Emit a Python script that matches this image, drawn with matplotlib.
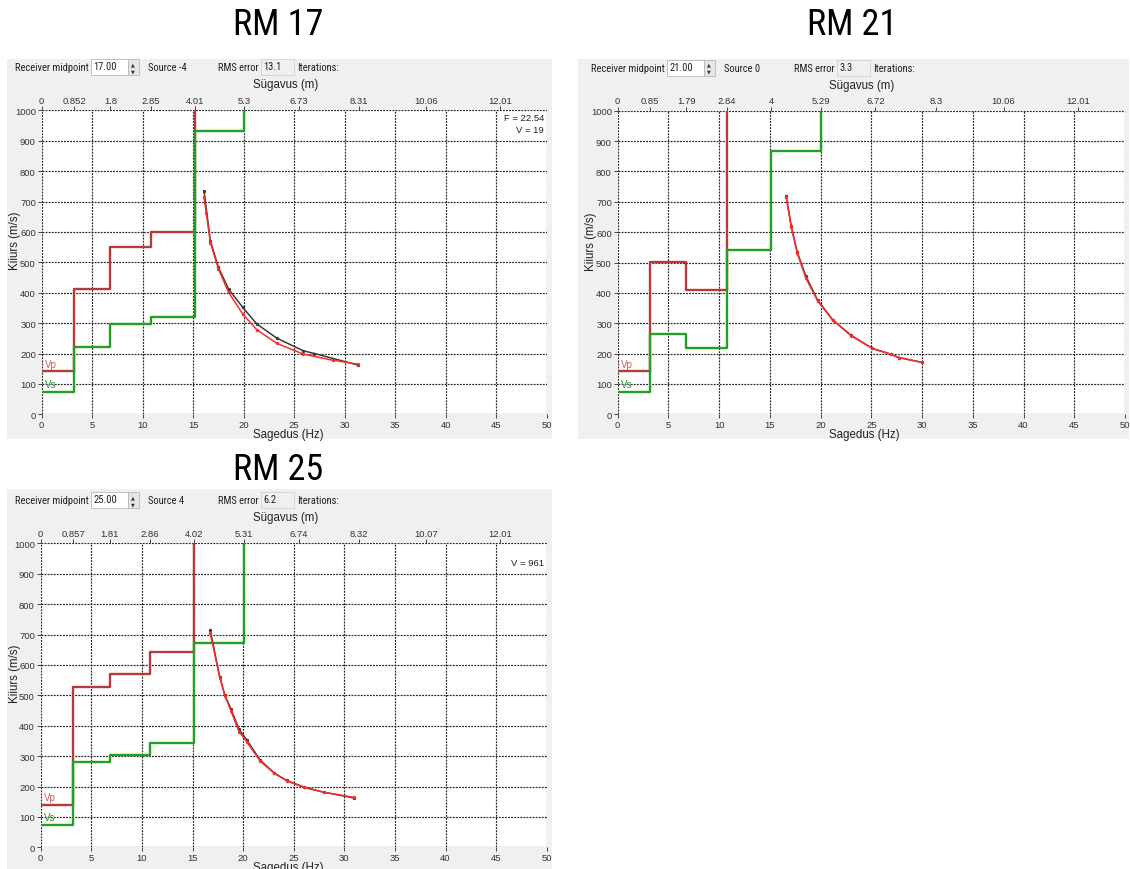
import numpy as np
import matplotlib
matplotlib.use("Agg")
import matplotlib.pyplot as plt
from matplotlib import font_manager
from matplotlib.patches import Rectangle


def pick_font(*names):
    for n in names:
        try:
            font_manager.findfont(n, fallback_to_default=False)
            return n
        except ValueError:
            pass
    return "DejaVu Sans"


UI_FONT = pick_font("Liberation Sans", "Arial", "DejaVu Sans")
NARROW_FONT = pick_font("Liberation Sans Narrow", "Roboto Condensed", "Liberation Sans")
TITLE_FONT = pick_font("Liberation Sans Narrow", "Roboto Condensed", "Open Sans", "DejaVu Sans")

# ---------------------------------------------------------------- data
# depth scale (top axis) of each profile, metres
rm17_depth_ticks = [0, 0.852, 1.8, 2.85, 4.01, 5.3, 6.73, 8.31, 10.06, 12.01]
rm21_depth_ticks = [0, 0.85, 1.79, 2.84, 4, 5.29, 6.72, 8.3, 10.06, 12.01]
rm25_depth_ticks = [0, 0.857, 1.81, 2.86, 4.02, 5.31, 6.74, 8.32, 10.07, 12.01]

# layered models: velocity of each layer (m/s), top of each layer = depth tick
rm17_vp = [141, 412, 551, 599, 1200, 1200]
rm17_vs = [75, 220, 297, 321, 933, 1100]
rm21_vp = [141, 501, 411, 1150, 1150, 1150]
rm21_vs = [75, 266, 219, 541, 867, 1100]
rm25_vp = [139, 527, 570, 642, 1150, 1150]
rm25_vs = [74, 281, 303, 342, 671, 1100]

# dispersion curves: frequency (Hz) / phase velocity (m/s)
rm17_obs_f = [16.07, 16.7, 17.5, 18.5, 19.9, 21.3, 23.3, 25.9, 27.0, 31.3]
rm17_obs_v = [735, 571, 483, 412, 352, 297, 250, 209, 200, 162]
rm17_fit_f = [16.07, 16.3, 16.7, 17.5, 18.5, 19.9, 21.3, 23.3, 25.9, 28.8, 31.3]
rm17_fit_v = [714, 661, 565, 478, 401, 330, 278, 233, 198, 178, 165]

rm21_obs_f = [16.6, 17.1, 17.7, 18.55, 19.7, 21.2, 23.0, 25.1, 26.9, 27.7, 30.0]
rm21_obs_v = [720, 620, 534, 455, 376, 311, 260, 217, 198, 187, 171]
rm21_fit_f = [16.6, 17.1, 17.7, 18.55, 19.7, 21.2, 23.0, 25.1, 26.9, 27.7, 30.0]
rm21_fit_v = [717, 618, 531, 448, 374, 310, 259, 217, 198, 187, 171]

rm25_obs_f = [16.75, 17.7, 18.2, 18.8, 19.6, 20.35, 21.7, 23.1, 24.3, 26.0, 28.0, 31.0]
rm25_obs_v = [714, 560, 500, 455, 388, 354, 286, 244, 220, 198, 181, 162]
rm25_fit_f = [16.75, 17.7, 18.2, 18.8, 19.6, 20.35, 21.7, 23.1, 24.3, 26.0, 28.0, 31.0]
rm25_fit_v = [705, 557, 499, 449, 380, 348, 283, 243, 219, 197, 181, 164]

panel_titles = ["RM 17", "RM 21", "RM 25"]
receiver_midpoints = ["17.00", "21.00", "25.00"]
sources = ["Source -4", "Source 0", "Source 4"]
rms_errors = ["13.1", "3.3", "6.2"]
corner_notes = [("F = 22.54", "V = 19"), ("", ""), ("", "V = 961")]

freq_ticks = list(range(0, 51, 5))
vel_ticks = list(range(0, 1001, 100))

# depth (m) that corresponds to 1 Hz on the shared horizontal scale
M_PER_HZ = 12.01 / 45.4

# ---------------------------------------------------------------- layout
W, H = 1130, 870
fig = plt.figure(figsize=(W / 100, H / 100), dpi=100)
fig.patch.set_facecolor("white")


def fx(x):
    return x / W


def fy(y):
    return 1 - y / H


def frect(x0, y0, x1, y1, **kw):
    r = Rectangle((fx(x0), fy(y1)), (x1 - x0) / W, (y1 - y0) / H,
                  transform=fig.transFigure, **kw)
    fig.add_artist(r)
    return r


def ftext(x, y, s, **kw):
    kw.setdefault("fontfamily", UI_FONT)
    kw.setdefault("color", "#222222")
    return fig.text(fx(x), fy(y), s, **kw)


# pixel geometry of every panel: window box, plot box (left, top, right, bottom)
panels = [
    dict(win=(7, 60, 552, 440), box=(41.7, 111.3, 546.7, 415.3), ox=0, title=(278, 25)),
    dict(win=(578, 60, 1129, 440), box=(617.7, 111.7, 1125.0, 415.3), ox=576, title=(852, 25)),
    dict(win=(7, 490, 552, 870), box=(40.7, 544.3, 546.7, 848.3), ox=0, title=(278, 470)),
]

depth_ticks = [rm17_depth_ticks, rm21_depth_ticks, rm25_depth_ticks]
vps = [rm17_vp, rm21_vp, rm25_vp]
vss = [rm17_vs, rm21_vs, rm25_vs]
obs = [(rm17_obs_f, rm17_obs_v), (rm21_obs_f, rm21_obs_v), (rm25_obs_f, rm25_obs_v)]
fits = [(rm17_fit_f, rm17_fit_v), (rm21_fit_f, rm21_fit_v), (rm25_fit_f, rm25_fit_v)]

VP_COL = "#b53a3a"
VS_COL = "#23a023"
GRID_COL = "#262626"
HDR = dict(fontsize=7.6, fontfamily=NARROW_FONT, ha="left", va="center")

for i, p in enumerate(panels):
    wx0, wy0, wx1, wy1 = p["win"]
    bl, bt, br, bb = p["box"]
    ox = p["ox"]
    hy = bt - 43  # header row centre

    # window background
    frect(wx0, wy0, wx1, wy1, facecolor="#f0f0f0", edgecolor="none", zorder=0)

    # title above the window
    tx, ty = p["title"]
    fig.text(fx(tx), fy(ty), panel_titles[i], ha="center", va="center",
             fontsize=26, fontfamily=TITLE_FONT, color="black")

    # header controls
    ftext(ox + 15, hy, "Receiver midpoint", **HDR)
    frect(ox + 90.5, hy - 8, ox + 128, hy + 8, facecolor="white",
          edgecolor="#b8b8b8", lw=0.6, zorder=1)
    ftext(ox + 93, hy - 1, receiver_midpoints[i], **HDR)
    frect(ox + 128, hy - 8, ox + 138.5, hy + 8, facecolor="#e6e6e6",
          edgecolor="#b8b8b8", lw=0.6, zorder=1)
    ftext(ox + 133.3, hy - 3.5, "\u25b2", fontsize=3.5, ha="center", va="center",
          fontfamily="DejaVu Sans", color="#333333")
    ftext(ox + 133.3, hy + 3.5, "\u25bc", fontsize=3.5, ha="center", va="center",
          fontfamily="DejaVu Sans", color="#333333")
    ftext(ox + 148, hy, sources[i], **HDR)
    ftext(ox + 218, hy, "RMS error", **HDR)
    frect(ox + 261, hy - 8, ox + 294, hy + 8, facecolor="#f0f0f0",
          edgecolor="#d0d0d0", lw=0.6, zorder=1)
    ftext(ox + 263, hy - 1, rms_errors[i], **HDR)
    ftext(ox + 297, hy, "Iterations:", **HDR)

    # axis titles
    ftext(ox + 286, bt - 26, "Sügavus (m)", fontsize=8.3, ha="center", va="center")
    ftext(ox + 288, bb + 20, "Sagedus (Hz)", fontsize=8.3, ha="center", va="center")
    ftext(ox + 15, bt + 130, "Kiiurs (m/s)", fontsize=8.3, ha="center", va="center",
          rotation=90)

    # plotting area
    ax = fig.add_axes([fx(bl), fy(bb), (br - bl) / W, (bb - bt) / H])
    ax.set_facecolor("white")
    ax.set_xlim(0, 50)
    ax.set_ylim(0, 1000)
    ax.set_xticks(freq_ticks)
    ax.set_yticks(vel_ticks)
    for s in ax.spines.values():
        s.set_visible(False)
    ax.tick_params(axis="both", labelsize=6.8, length=3, width=0.7,
                   color="#444444", labelcolor="#333333", pad=1.2)
    for lab in ax.get_xticklabels() + ax.get_yticklabels():
        lab.set_fontfamily(UI_FONT)
    ax.grid(True, color=GRID_COL, lw=0.85, linestyle=(0, (1.6, 1.0)), zorder=1)
    ax.set_axisbelow(True)

    # depth axis on top
    sec = ax.secondary_xaxis("top", functions=(lambda f: f * M_PER_HZ,
                                               lambda d: np.asarray(d) / M_PER_HZ))
    sec.set_xticks(depth_ticks[i])
    sec.set_xticklabels(["%g" % d for d in depth_ticks[i]])
    sec.tick_params(labelsize=6.8, length=3, width=0.7, color="#444444",
                    labelcolor="#333333", pad=1)
    for lab in sec.get_xticklabels():
        lab.set_fontfamily(UI_FONT)
    for s in sec.spines.values():
        s.set_visible(False)

    # layered Vp / Vs models
    tops = np.array(depth_ticks[i][:len(vps[i])]) / M_PER_HZ
    xs = np.append(tops, 60)
    vp = np.append(vps[i], vps[i][-1])
    vs = np.append(vss[i], vss[i][-1])
    ax.plot(xs, vp, drawstyle="steps-post", color=VP_COL, lw=1.7, zorder=3)
    ax.plot(xs, vs, drawstyle="steps-post", color=VS_COL, lw=1.7, zorder=4)
    ax.text(0.35, 150, "Vp", color="#d05a5a", fontsize=7, fontfamily=UI_FONT,
            ha="left", va="bottom", zorder=5)
    ax.text(0.35, 82, "Vs", color="#2a9a2a", fontsize=7, fontfamily=UI_FONT,
            ha="left", va="bottom", zorder=5)

    # dispersion curves
    of, ov = obs[i]
    ff, fv = fits[i]
    ax.plot(of, ov, color="#3a3a3a", lw=1.1, marker="o", ms=1.4, zorder=6)
    ax.plot(ff, fv, color="#ff2a2a", lw=1.1, marker="o", ms=1.4, zorder=7)

    # corner notes
    n1, n2 = corner_notes[i]
    if n1:
        ax.text(0.995, 0.977, n1, transform=ax.transAxes, ha="right", va="center",
                fontsize=6.8, fontfamily=UI_FONT, color="#222222")
    if n2:
        ax.text(0.995, 0.936, n2, transform=ax.transAxes, ha="right", va="center",
                fontsize=6.8, fontfamily=UI_FONT, color="#222222")

fig.savefig("out.png", dpi=100, facecolor="white")
